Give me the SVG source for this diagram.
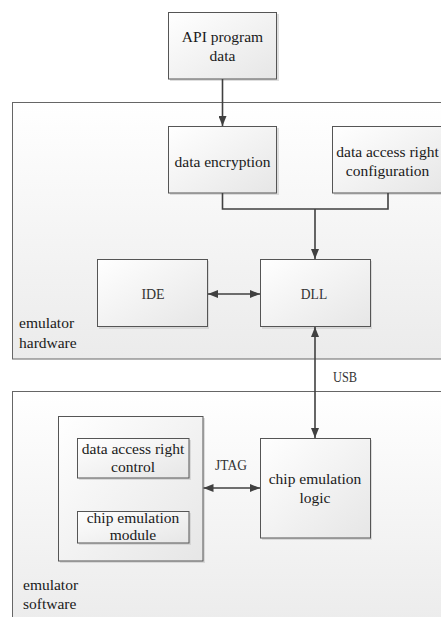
<svg xmlns="http://www.w3.org/2000/svg" width="441" height="617" viewBox="0 0 441 617">
<defs>
<linearGradient id="gBox" x1="0" y1="0" x2="1" y2="1">
<stop offset="0" stop-color="#ffffff"/>
<stop offset="1" stop-color="#e6e6e6"/>
</linearGradient>
<linearGradient id="gArea" x1="0" y1="0" x2="0" y2="1">
<stop offset="0" stop-color="#ffffff"/>
<stop offset="1" stop-color="#ebebeb"/>
</linearGradient>
<marker id="ah" viewBox="0 0 10 8" refX="10" refY="4" markerWidth="10" markerHeight="8" markerUnits="userSpaceOnUse" orient="auto-start-reverse">
<path d="M0,0 L10,4 L0,8 Z" fill="#404040"/>
</marker>
</defs>
<rect width="441" height="617" fill="#ffffff"/>

<g id="hardware">
<rect fill="url(#gArea)" stroke="#666666" x="12.5" y="102.5" width="440" height="256.5"/>
<text font-family="Liberation Serif" font-size="20" fill="#1a1a1a" transform="translate(19,328) scale(0.775)">emulator</text>
<text font-family="Liberation Serif" font-size="20" fill="#1a1a1a" transform="translate(19,348) scale(0.775)">hardware</text>
</g>
<g id="software">
<rect fill="url(#gArea)" stroke="#666666" x="12.5" y="391.5" width="440" height="240"/>
<text font-family="Liberation Serif" font-size="20" fill="#1a1a1a" transform="translate(23,590) scale(0.775)">emulator</text>
<text font-family="Liberation Serif" font-size="20" fill="#1a1a1a" transform="translate(23,609) scale(0.775)">software</text>
</g>

<g id="api">
<rect fill="#c8c8c8" opacity="0.6" x="170" y="14" width="109" height="67"/>
<rect fill="url(#gBox)" stroke="#555555" x="168.5" y="12.5" width="108" height="66.5"/>
<text font-family="Liberation Serif" font-size="20" fill="#1a1a1a" text-anchor="middle" transform="translate(222.5,42) scale(0.775)">API program</text>
<text font-family="Liberation Serif" font-size="20" fill="#1a1a1a" text-anchor="middle" transform="translate(222.5,61) scale(0.775)">data</text>
</g>
<g id="encryption">
<rect fill="#c8c8c8" opacity="0.6" x="170" y="128" width="109" height="67"/>
<rect fill="url(#gBox)" stroke="#555555" x="168.5" y="126.5" width="108" height="66.5"/>
<text font-family="Liberation Serif" font-size="20" fill="#1a1a1a" text-anchor="middle" transform="translate(222.5,167) scale(0.775)">data encryption</text>
</g>
<g id="config">
<rect fill="#c8c8c8" opacity="0.6" x="334" y="128" width="112" height="67"/>
<rect fill="url(#gBox)" stroke="#555555" x="332.5" y="126.5" width="112" height="66.5"/>
<text font-family="Liberation Serif" font-size="20" fill="#1a1a1a" text-anchor="middle" transform="translate(387.5,157) scale(0.775)">data access right</text>
<text font-family="Liberation Serif" font-size="20" fill="#1a1a1a" text-anchor="middle" transform="translate(387.5,176) scale(0.775)">configuration</text>
</g>
<g id="ide">
<rect fill="#c8c8c8" opacity="0.6" x="99" y="261" width="110" height="68"/>
<rect fill="url(#gBox)" stroke="#555555" x="97.5" y="259.5" width="110" height="67"/>
<text font-family="Liberation Serif" font-size="20" fill="#333333" text-anchor="middle" transform="translate(153,299) scale(0.775)" textLength="30" lengthAdjust="spacingAndGlyphs">IDE</text>
</g>
<g id="dll">
<rect fill="#c8c8c8" opacity="0.6" x="262" y="261" width="110" height="68"/>
<rect fill="url(#gBox)" stroke="#555555" x="260.5" y="259.5" width="110" height="67"/>
<text font-family="Liberation Serif" font-size="20" fill="#333333" text-anchor="middle" transform="translate(314,299) scale(0.775)" textLength="34" lengthAdjust="spacingAndGlyphs">DLL</text>
</g>
<g id="emu-container">
<rect fill="#c8c8c8" opacity="0.6" x="60" y="418" width="145" height="145"/>
<rect fill="url(#gBox)" stroke="#555555" x="58.5" y="416.5" width="144.5" height="144.5"/>
</g>
<g id="access-control">
<rect fill="#c8c8c8" opacity="0.6" x="79" y="440" width="112" height="40"/>
<rect fill="url(#gBox)" stroke="#555555" x="77.5" y="438.5" width="111.5" height="39.5"/>
<text font-family="Liberation Serif" font-size="20" fill="#1a1a1a" text-anchor="middle" transform="translate(133,454) scale(0.775)">data access right</text>
<text font-family="Liberation Serif" font-size="20" fill="#1a1a1a" text-anchor="middle" transform="translate(133,472) scale(0.775)">control</text>
</g>
<g id="emu-module">
<rect fill="#c8c8c8" opacity="0.6" x="79" y="513" width="112" height="32"/>
<rect fill="url(#gBox)" stroke="#555555" x="77.5" y="511.5" width="111.5" height="31.5"/>
<text font-family="Liberation Serif" font-size="20" fill="#1a1a1a" text-anchor="middle" transform="translate(133,523) scale(0.775)">chip emulation</text>
<text font-family="Liberation Serif" font-size="20" fill="#1a1a1a" text-anchor="middle" transform="translate(133,540) scale(0.775)">module</text>
</g>
<g id="logic">
<rect fill="#c8c8c8" opacity="0.6" x="262" y="440" width="110" height="100"/>
<rect fill="url(#gBox)" stroke="#555555" x="260.5" y="438.5" width="110" height="99.5"/>
<text font-family="Liberation Serif" font-size="20" fill="#1a1a1a" text-anchor="middle" transform="translate(315,484) scale(0.775)">chip emulation</text>
<text font-family="Liberation Serif" font-size="20" fill="#1a1a1a" text-anchor="middle" transform="translate(315,503) scale(0.775)">logic</text>
</g>

<g id="connectors" fill="none" stroke="#404040" stroke-width="1.6">
<path d="M222.5,79 V126" marker-end="url(#ah)"/>
<path d="M222.5,193 V209 H388 V193"/>
<path d="M315,209 V259" marker-end="url(#ah)"/>
<path d="M208,294 H260" marker-start="url(#ah)" marker-end="url(#ah)"/>
<path d="M315,327 V438" marker-start="url(#ah)" marker-end="url(#ah)"/>
<path d="M203.5,488 H260" marker-start="url(#ah)" marker-end="url(#ah)"/>
<text stroke="none" font-family="Liberation Serif" font-size="20" fill="#333333" text-anchor="middle" transform="translate(345,382) scale(0.775)" textLength="31" lengthAdjust="spacingAndGlyphs">USB</text>
<text stroke="none" font-family="Liberation Serif" font-size="20" fill="#333333" text-anchor="middle" transform="translate(231,470) scale(0.775)" textLength="41" lengthAdjust="spacingAndGlyphs">JTAG</text>
</g>
</svg>
